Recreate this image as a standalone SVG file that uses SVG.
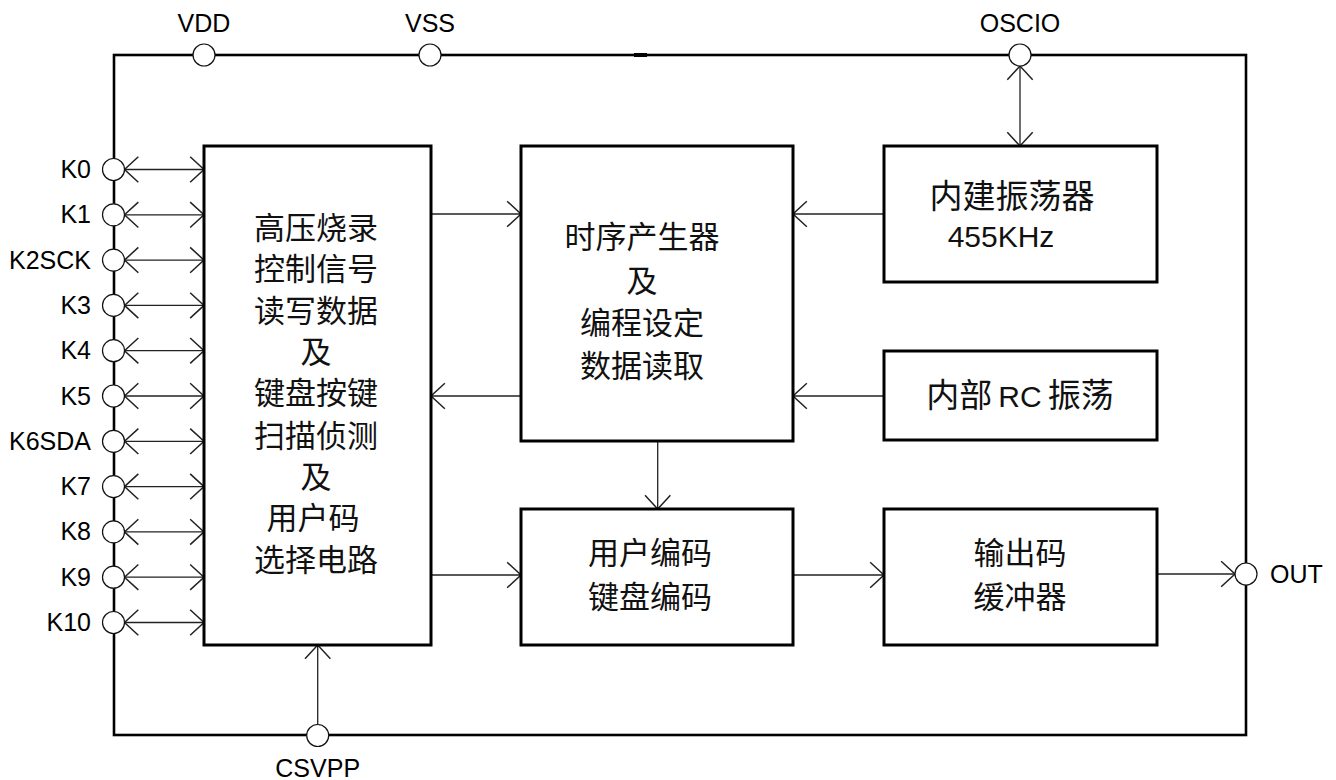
<svg xmlns="http://www.w3.org/2000/svg" width="1336" height="780" viewBox="0 0 1336 780">
<style>
.frame{fill:none;stroke:#000;stroke-width:2.6}
.box{fill:none;stroke:#000;stroke-width:3}
.pin{fill:#fff;stroke:#111;stroke-width:1.2}
.conn{stroke:#222;stroke-width:1.3;fill:none}
.lbl{font-family:"Liberation Sans",Arial,sans-serif;font-size:25px;fill:#000}
.cn{font-family:"Liberation Sans","Noto Sans CJK SC",sans-serif;font-size:31px;fill:#111;text-anchor:middle}
</style>
<defs>
<marker id="ah" markerUnits="userSpaceOnUse" markerWidth="30" markerHeight="30" viewBox="-14 -13 16 26" refX="0" refY="0" orient="auto-start-reverse">
<path d="M-12,-11 L0,0 L-12,11" fill="none" stroke="#222" stroke-width="1.3"/>
</marker>
</defs>
<rect width="1336" height="780" fill="#fff"/>
<g id="frame">
<rect class="frame" x="114" y="55" width="1132" height="680"/>
<line x1="634" y1="55" x2="647" y2="55" stroke="#000" stroke-width="4"/>
</g>
<g id="connectors">
<line class="conn" x1="124.5" y1="169.5" x2="204" y2="169.5" marker-start="url(#ah)" marker-end="url(#ah)"/>
<line class="conn" x1="124.5" y1="214.8" x2="204" y2="214.8" marker-start="url(#ah)" marker-end="url(#ah)"/>
<line class="conn" x1="124.5" y1="260.1" x2="204" y2="260.1" marker-start="url(#ah)" marker-end="url(#ah)"/>
<line class="conn" x1="124.5" y1="305.4" x2="204" y2="305.4" marker-start="url(#ah)" marker-end="url(#ah)"/>
<line class="conn" x1="124.5" y1="350.7" x2="204" y2="350.7" marker-start="url(#ah)" marker-end="url(#ah)"/>
<line class="conn" x1="124.5" y1="396" x2="204" y2="396" marker-start="url(#ah)" marker-end="url(#ah)"/>
<line class="conn" x1="124.5" y1="441.3" x2="204" y2="441.3" marker-start="url(#ah)" marker-end="url(#ah)"/>
<line class="conn" x1="124.5" y1="486.6" x2="204" y2="486.6" marker-start="url(#ah)" marker-end="url(#ah)"/>
<line class="conn" x1="124.5" y1="531.9" x2="204" y2="531.9" marker-start="url(#ah)" marker-end="url(#ah)"/>
<line class="conn" x1="124.5" y1="577.2" x2="204" y2="577.2" marker-start="url(#ah)" marker-end="url(#ah)"/>
<line class="conn" x1="124.5" y1="622.5" x2="204" y2="622.5" marker-start="url(#ah)" marker-end="url(#ah)"/>
<line class="conn" x1="1020" y1="66" x2="1020" y2="146" marker-start="url(#ah)" marker-end="url(#ah)"/>
<line class="conn" x1="317.7" y1="724.5" x2="317.7" y2="645" marker-end="url(#ah)"/>
<line class="conn" x1="431" y1="214" x2="521" y2="214" marker-end="url(#ah)"/>
<line class="conn" x1="431" y1="575" x2="521" y2="575" marker-end="url(#ah)"/>
<line class="conn" x1="521" y1="396" x2="431" y2="396" marker-end="url(#ah)"/>
<line class="conn" x1="884" y1="214" x2="793" y2="214" marker-end="url(#ah)"/>
<line class="conn" x1="884" y1="396" x2="793" y2="396" marker-end="url(#ah)"/>
<line class="conn" x1="657.7" y1="441" x2="657.7" y2="509" marker-end="url(#ah)"/>
<line class="conn" x1="793" y1="575" x2="884" y2="575" marker-end="url(#ah)"/>
<line class="conn" x1="1157" y1="574" x2="1235" y2="574" marker-end="url(#ah)"/>
</g>
<g id="pins">
<g id="pin-vdd"><circle class="pin" cx="204" cy="55" r="11"/><text class="lbl" x="204" y="32" text-anchor="middle">VDD</text></g>
<g id="pin-vss"><circle class="pin" cx="430" cy="55" r="11"/><text class="lbl" x="430" y="32" text-anchor="middle">VSS</text></g>
<g id="pin-oscio"><circle class="pin" cx="1020" cy="55" r="11"/><text class="lbl" x="1020" y="32" text-anchor="middle">OSCIO</text></g>
<g id="pin-out"><circle class="pin" cx="1246" cy="574" r="11"/><text class="lbl" x="1270" y="583">OUT</text></g>
<g id="pin-csvpp"><circle class="pin" cx="317.7" cy="735.5" r="11"/><text class="lbl" x="317.7" y="777" text-anchor="middle">CSVPP</text></g>
<g id="pin-k0"><circle class="pin" cx="113.5" cy="169.5" r="11"/><text class="lbl" x="91" y="178" text-anchor="end">K0</text></g>
<g id="pin-k1"><circle class="pin" cx="113.5" cy="214.8" r="11"/><text class="lbl" x="91" y="223.3" text-anchor="end">K1</text></g>
<g id="pin-k2"><circle class="pin" cx="113.5" cy="260.1" r="11"/><text class="lbl" x="91" y="268.6" text-anchor="end">K2SCK</text></g>
<g id="pin-k3"><circle class="pin" cx="113.5" cy="305.4" r="11"/><text class="lbl" x="91" y="313.9" text-anchor="end">K3</text></g>
<g id="pin-k4"><circle class="pin" cx="113.5" cy="350.7" r="11"/><text class="lbl" x="91" y="359.2" text-anchor="end">K4</text></g>
<g id="pin-k5"><circle class="pin" cx="113.5" cy="396" r="11"/><text class="lbl" x="91" y="404.5" text-anchor="end">K5</text></g>
<g id="pin-k6"><circle class="pin" cx="113.5" cy="441.3" r="11"/><text class="lbl" x="91" y="449.8" text-anchor="end">K6SDA</text></g>
<g id="pin-k7"><circle class="pin" cx="113.5" cy="486.6" r="11"/><text class="lbl" x="91" y="495.1" text-anchor="end">K7</text></g>
<g id="pin-k8"><circle class="pin" cx="113.5" cy="531.9" r="11"/><text class="lbl" x="91" y="540.4" text-anchor="end">K8</text></g>
<g id="pin-k9"><circle class="pin" cx="113.5" cy="577.2" r="11"/><text class="lbl" x="91" y="585.7" text-anchor="end">K9</text></g>
<g id="pin-k10"><circle class="pin" cx="113.5" cy="622.5" r="11"/><text class="lbl" x="91" y="631" text-anchor="end">K10</text></g>
</g>
<g id="node-control">
<rect class="box" x="204" y="146" width="227" height="499"/>
<text class="cn" x="316" y="238.5">高压烧录</text>
<text class="cn" x="316" y="280">控制信号</text>
<text class="cn" x="316" y="322">读写数据</text>
<text class="cn" x="316" y="363">及</text>
<text class="cn" x="316" y="404">键盘按键</text>
<text class="cn" x="316" y="447">扫描侦测</text>
<text class="cn" x="316" y="488">及</text>
<text class="cn" x="313" y="529">用户码</text>
<text class="cn" x="316" y="571">选择电路</text>
</g>
<g id="node-timing">
<rect class="box" x="521" y="146" width="272" height="295"/>
<text class="cn" x="642" y="248">时序产生器</text>
<text class="cn" x="642" y="292">及</text>
<text class="cn" x="642" y="334">编程设定</text>
<text class="cn" x="642" y="377">数据读取</text>
</g>
<g id="node-osc">
<rect class="box" x="884" y="146" width="273" height="136"/>
<text class="cn" x="1012" y="208" style="font-size:33px">内建振荡器</text>
<text class="cn" x="1001" y="247" style="font-size:30px">455KHz</text>
</g>
<g id="node-rc">
<rect class="box" x="884" y="351" width="273" height="89"/>
<text class="cn" x="1020" y="407" style="font-size:33px">内部<tspan dx="6" style="font-size:30px">RC</tspan><tspan dx="6">振荡</tspan></text>
</g>
<g id="node-encode">
<rect class="box" x="521" y="509" width="272" height="136"/>
<text class="cn" x="650" y="564">用户编码</text>
<text class="cn" x="650" y="608">键盘编码</text>
</g>
<g id="node-output">
<rect class="box" x="884" y="509" width="273" height="136"/>
<text class="cn" x="1020" y="564">输出码</text>
<text class="cn" x="1020" y="608">缓冲器</text>
</g>
</svg>
